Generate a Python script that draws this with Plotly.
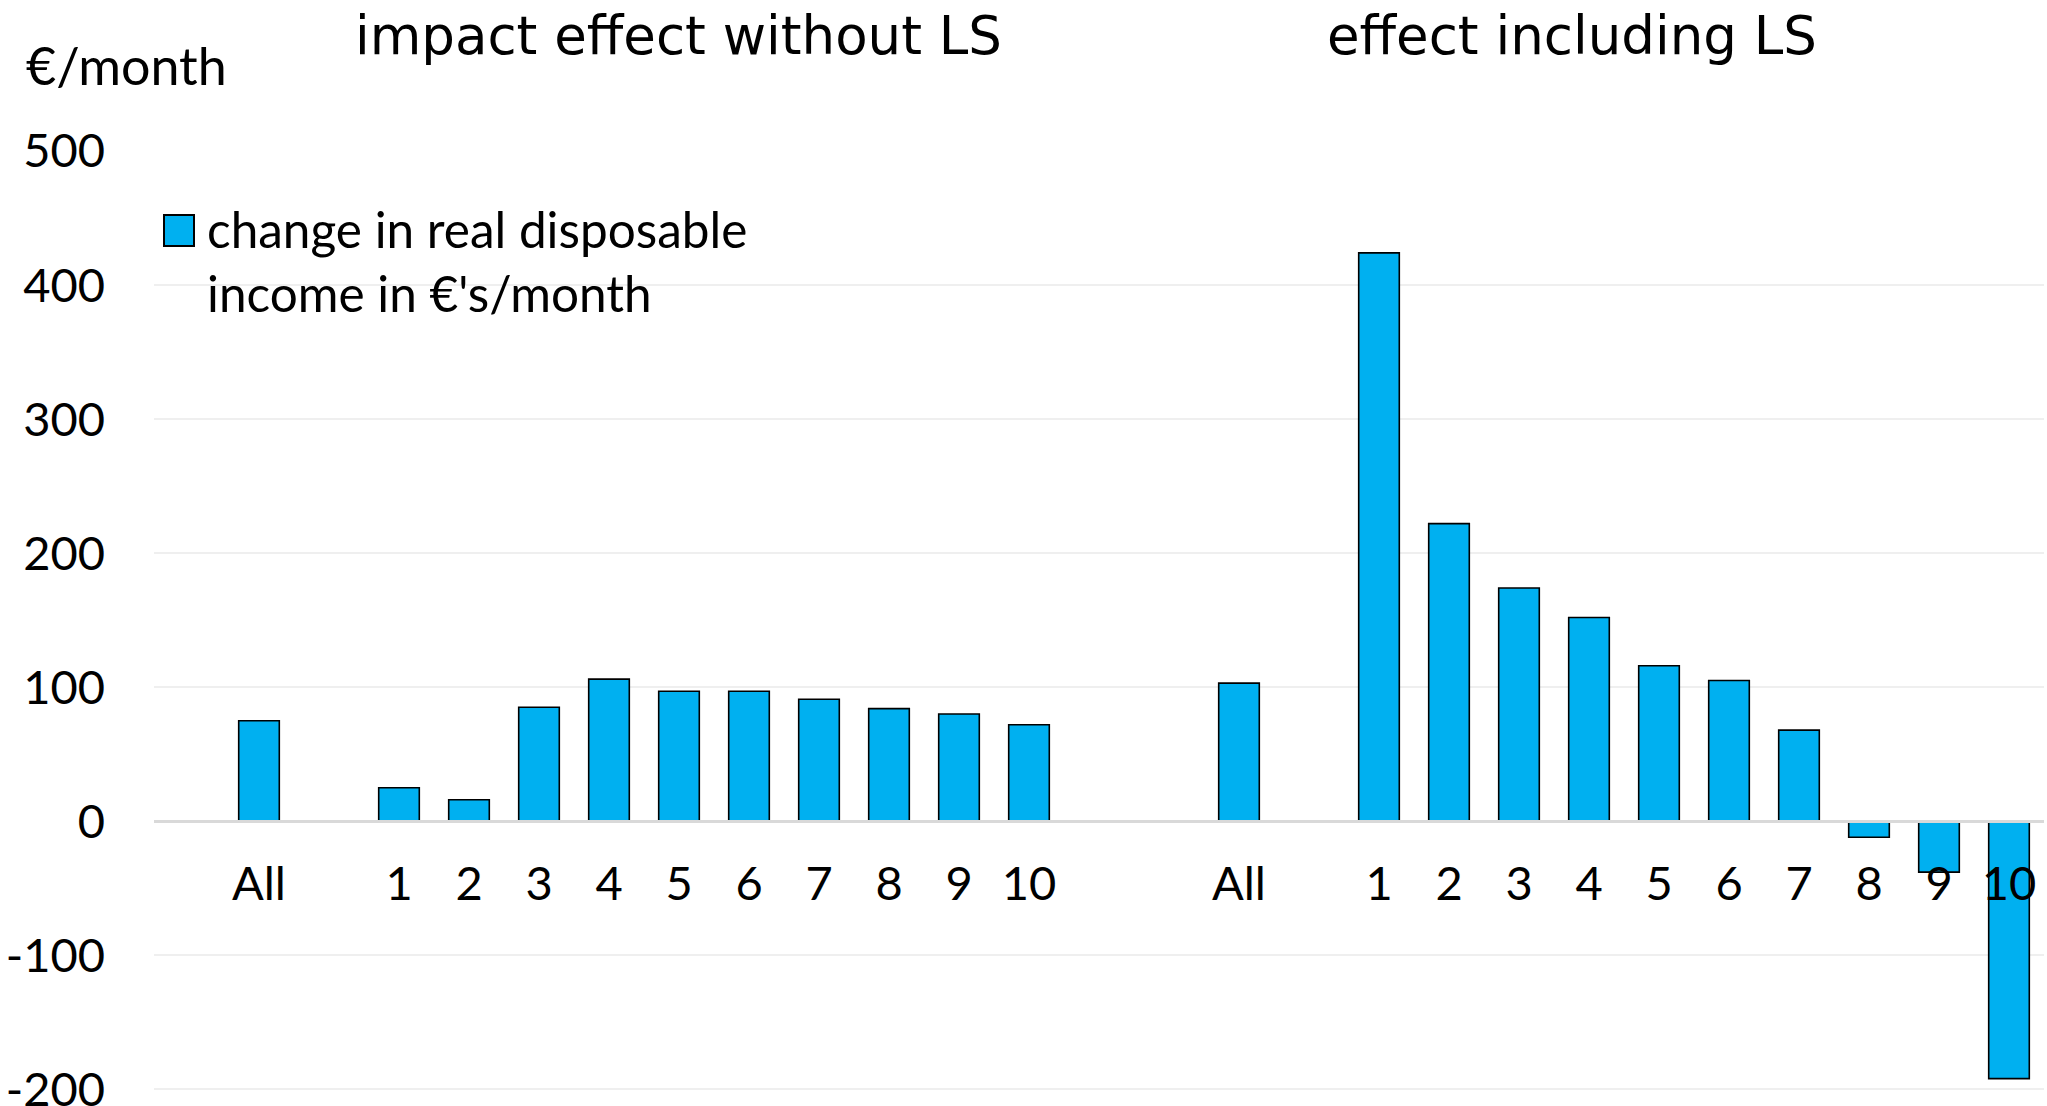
import plotly.graph_objects as go

# Income groups (All households, then deciles 1-10)
groups = ["All", "1", "2", "3", "4", "5", "6", "7", "8", "9", "10"]

# Change in real disposable income, €/month
impact_without_ls = [75, 25, 16, 85, 106, 97, 97, 91, 84, 80, 72]
effect_including_ls = [103, 424, 222, 174, 152, 116, 105, 68, -12, -38, -192]

panel_titles = ["impact effect without LS", "effect including LS"]
y_ticks = [-200, -100, 0, 100, 200, 300, 400, 500]


def panel(values, labels):
    """One panel: empty slot, 'All', gap slot, then deciles."""
    return ([None, values[0], None] + list(values[1:]),
            ["", labels[0], ""] + list(labels[1:]))


left_vals, left_labels = panel(impact_without_ls, groups)
right_vals, right_labels = panel(effect_including_ls, groups)

bar_values = left_vals + [None] + right_vals
tick_text = left_labels + [""] + right_labels
x_pos = list(range(len(bar_values)))

BAR_COLOR = "#00B0F0"
FONT = "Lato"

fig = go.Figure()
fig.add_trace(go.Bar(
    x=x_pos,
    y=bar_values,
    width=0.58,
    marker=dict(color=BAR_COLOR, line=dict(color="black", width=1.6)),
    showlegend=False,
    hoverinfo="y",
))

# A sliver of headroom below -200 keeps that tick and gridline drawn
y_min, y_max = -202, 500
zero_frac = (0 - y_min) / (y_max - y_min)

W, H = 2047, 1106
M_L, M_R, M_T, M_B = 154, 3, 151, 14
plot_w = W - M_L - M_R
plot_h = H - M_T - M_B


def px_x(px):
    return (px - M_L) / plot_w


def px_y(py):
    return (H - M_B - py) / plot_h


fig.update_layout(
    width=W,
    height=H,
    margin=dict(l=M_L, r=M_R, t=M_T, b=M_B, autoexpand=False),
    paper_bgcolor="white",
    plot_bgcolor="white",
    font=dict(family=FONT, size=47, color="black"),
    xaxis=dict(
        range=[-0.5, len(bar_values) - 0.5],
        tickmode="array",
        tickvals=x_pos,
        ticktext=tick_text,
        anchor="free",
        position=zero_frac,
        showline=True,
        linecolor="#d9d9d9",
        linewidth=3,
        showgrid=False,
        zeroline=False,
        ticks="",
        ticklabelstandoff=20,
        automargin=False,
        tickfont=dict(family=FONT, size=47, color="black"),
        layer="above traces",
    ),
    yaxis=dict(
        range=[y_min, y_max],
        tickmode="array",
        tickvals=y_ticks,
        ticktext=[str(v) for v in y_ticks],
        showgrid=True,
        gridcolor="#efefef",
        gridwidth=2,
        zeroline=False,
        showline=False,
        ticks="",
        ticklabelstandoff=48,
        ticklabeloverflow="allow",
        automargin=False,
        tickfont=dict(family=FONT, size=47, color="black"),
    ),
    bargap=0.42,
)

# Panel titles
for title, xc in zip(panel_titles, [678, 1572]):
    fig.add_annotation(
        text=title, xref="paper", yref="paper", x=px_x(xc), y=px_y(35),
        xanchor="center", yanchor="middle", showarrow=False,
        font=dict(family="DejaVu Sans", size=53, color="black"),
    )

# Unit label
fig.add_annotation(
    text="€/month", xref="paper", yref="paper", x=px_x(24), y=px_y(65),
    xanchor="left", yanchor="middle", showarrow=False,
    font=dict(family=FONT, size=52, color="black"),
)

# Legend: swatch and two-line label
fig.add_shape(
    type="rect", xref="paper", yref="paper",
    x0=px_x(164), x1=px_x(194), y0=px_y(246), y1=px_y(215),
    fillcolor=BAR_COLOR, line=dict(color="black", width=2),
)
for line_text, ypix in [("change in real disposable", 229),
                        ("income in €'s/month", 293)]:
    fig.add_annotation(
        text=line_text, xref="paper", yref="paper",
        x=px_x(205), y=px_y(ypix),
        xanchor="left", yanchor="middle", showarrow=False,
        font=dict(family=FONT, size=49.5, color="black"),
    )

fig.write_html("out.html")
